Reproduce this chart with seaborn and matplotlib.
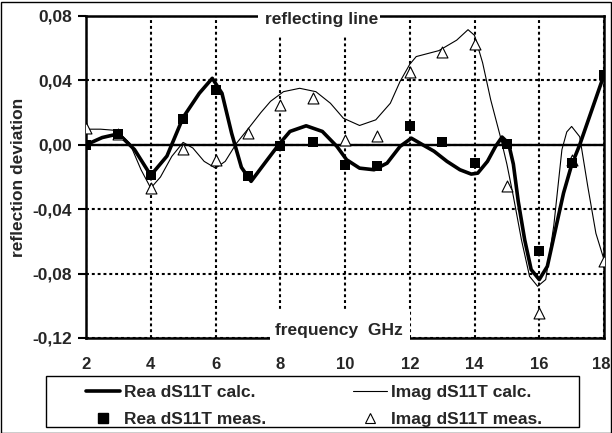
import matplotlib
matplotlib.use("Agg")
import matplotlib.pyplot as plt
import matplotlib.transforms as mtransforms
import seaborn as sns
import pandas as pd
from matplotlib.patches import Rectangle
from matplotlib.lines import Line2D

# ---------------- data ----------------
freq_meas = [2, 3, 4, 5, 6, 7, 8, 9, 10, 11, 12, 13, 14, 15, 16, 17, 18]
rea_meas = [0.000, 0.0068, -0.0186, 0.0163, 0.0341, -0.0196, -0.0005, 0.0018, -0.0124,
            -0.0134, 0.0114, 0.0017, -0.011, 0.0004, -0.0662, -0.011, 0.0434]
imag_meas = [0.0105, 0.0070, -0.0271, -0.0027, -0.0093, 0.0076, 0.0248, 0.0290, 0.0031,
             0.0052, 0.0455, 0.0579, 0.0628, -0.0258, -0.1046, -0.0095, -0.0723]

freq_rea_calc = [2.0, 2.5, 3.0, 3.5, 4.0, 4.5, 5.0, 5.5, 5.9, 6.2, 6.5, 6.8, 7.1, 7.6,
                 7.95, 8.3, 8.8, 9.3, 9.75, 10.05, 10.45, 10.9, 11.3, 11.7, 12.05, 12.4,
                 12.75, 13.15, 13.55, 13.9, 14.1, 14.4, 14.65, 14.85, 15.05, 15.2, 15.35,
                 15.55, 15.75, 16.0, 16.25, 16.5, 16.75, 17.0, 17.25, 18.0]
rea_calc = [0.000, 0.0045, 0.0068, -0.003, -0.019, -0.007, 0.017, 0.032, 0.0413, 0.032,
            0.007, -0.014, -0.0227, -0.0093, 0.000, 0.0083, 0.0118, 0.0083, -0.001,
            -0.0093, -0.0145, -0.0155, -0.0114, -0.001, 0.0041, 0.000, -0.004, -0.0103,
            -0.0155, -0.0182, -0.0176, -0.0103, -0.001, 0.0048, 0.001, -0.012, -0.035,
            -0.059, -0.0775, -0.0837, -0.0755, -0.0527, -0.030, -0.0125, 0.000, 0.0434]

freq_imag_calc = [2.0, 2.45, 2.95, 3.35, 3.7, 4.0, 4.3, 4.65, 5.0, 5.3, 5.65, 6.0, 6.3,
                  6.65, 7.05, 7.4, 7.7, 8.1, 8.6, 9.1, 9.55, 9.95, 10.45, 10.95, 11.4,
                  11.7, 12.0, 12.2, 12.9, 13.45, 13.8, 14.0, 14.25, 14.5, 14.8, 15.0,
                  15.2, 15.45, 15.7, 15.95, 16.2, 16.45, 16.7, 16.85, 17.0, 17.25, 17.5,
                  17.75, 18.0]
imag_calc = [0.0097, 0.0097, 0.0089, 0.001, -0.0155, -0.0269, -0.020, -0.0072, 0.0015,
             -0.002, -0.0103, -0.0145, -0.0103, 0.001, 0.011, 0.020, 0.027, 0.033, 0.0351,
             0.033, 0.0258, 0.0165, 0.012, 0.0155, 0.0258, 0.0393, 0.0500, 0.0548, 0.0585,
             0.065, 0.0715, 0.068, 0.0510, 0.028, 0.005, -0.012, -0.032, -0.059, -0.0817,
             -0.0879, -0.0837, -0.050, -0.003, 0.008, 0.0114, 0.005, -0.026, -0.055, -0.0713]

x_ticks = [2, 4, 6, 8, 10, 12, 14, 16, 18]
x_tick_labels = ["2", "4", "6", "8", "10", "12", "14", "16", "18"]
y_ticks = [-0.12, -0.08, -0.04, 0.0, 0.04, 0.08]
y_tick_labels = ["-0,12", "-0,08", "-0,04", "0,00", "0,04", "0,08"]
top_label = "reflecting line"
x_label = "frequency  GHz"
y_label = "reflection deviation"
series_names = ["Rea dS11T calc.", "Rea dS11T meas.", "Imag dS11T calc.", "Imag dS11T meas."]

# ---------------- style ----------------
sns.set_theme(style="white")
plt.rcParams['font.family'] = ['Liberation Sans', 'DejaVu Sans']
plt.rcParams['font.weight'] = 'bold'
FS = 12.5

W, H = 612, 433
fig = plt.figure(figsize=(W / 100, H / 100), dpi=100)
fig.patch.set_facecolor("white")
fig.patches.append(Rectangle((0.5 / W, 0.5 / H), 1 - 2 / W, 1 - 2 / H, transform=fig.transFigure,
                             fill=False, edgecolor="black", linewidth=1.0))

ax = fig.add_axes([86 / W, 1 - 338 / H, 518 / W, 322 / H])
ax.set_facecolor("white")

df_rc = pd.DataFrame({"f": freq_rea_calc, "v": rea_calc})
df_ic = pd.DataFrame({"f": freq_imag_calc, "v": imag_calc})
df_m = pd.DataFrame({"f": freq_meas, "rea": rea_meas, "imag": imag_meas})

sns.lineplot(data=df_ic, x="f", y="v", ax=ax, color="black", linewidth=0.8,
             sort=False, estimator=None, zorder=3)
sns.lineplot(data=df_rc, x="f", y="v", ax=ax, color="black", linewidth=2.6,
             sort=False, estimator=None, zorder=4)
sns.scatterplot(data=df_m, x="f", y="imag", ax=ax, marker="^", s=62, facecolor="white",
                edgecolor="black", linewidth=0.8, zorder=5)
sns.scatterplot(data=df_m, x="f", y="rea", ax=ax, marker="s", s=56, color="black",
                edgecolor="black", linewidth=0, zorder=6)

ax.set_xlim(2, 18)
ax.set_ylim(-0.12, 0.08)
ax.set_xticks(x_ticks)
ax.set_xticklabels(x_tick_labels)
ax.set_yticks(y_ticks)
ax.set_yticklabels(y_tick_labels)
ax.set_xlabel("")
ax.set_ylabel("")
ax.tick_params(axis="y", direction="out", length=6, width=1.5, pad=4, labelsize=FS,
               left=True, color="black")
ax.tick_params(axis="x", length=0, pad=14, labelsize=12)
for lab in ax.get_xticklabels() + ax.get_yticklabels():
    lab.set_fontweight("bold")
last = ax.get_xticklabels()[-1]
last.set_transform(last.get_transform() + mtransforms.ScaledTranslation(-3 / 100, 0, fig.dpi_scale_trans))

ax.grid(True, color="black", linestyle=(0, (1.4, 1.4)), linewidth=1.5, zorder=1)
ax.set_axisbelow(True)
ax.axhline(0, color="black", linewidth=1.7, zorder=2)
for sp in ax.spines.values():
    sp.set_color("black")
    sp.set_linewidth(1.8)
    sp.set_visible(True)

# white label boxes interrupting the frame
ax.add_patch(Rectangle(((258 - 86) / 518, (338 - 35) / 322), 122 / 518, 33 / 322,
                       transform=ax.transAxes, facecolor="white", edgecolor="none",
                       clip_on=False, zorder=7))
ax.text((321.5 - 86) / 518, (338 - 24) / 322, top_label, transform=ax.transAxes,
        ha="center", va="baseline", fontsize=FS, fontweight="bold", zorder=8)
ax.add_patch(Rectangle(((270 - 86) / 518, (338 - 348) / 322), 140 / 518, 38 / 322,
                       transform=ax.transAxes, facecolor="white", edgecolor="none",
                       clip_on=False, zorder=7))
ax.text((339 - 86) / 518, (338 - 335) / 322, x_label, transform=ax.transAxes,
        ha="center", va="baseline", fontsize=FS, fontweight="bold", zorder=8)

fig.text(19 / W, 1 - 177 / H, y_label, rotation=90, ha="center", va="center",
         fontsize=FS, fontweight="bold")

# legend
fig.patches.append(Rectangle((46 / W, 1 - 427 / H), 533 / W, 51 / H, transform=fig.transFigure,
                             fill=True, facecolor="white", edgecolor="black", linewidth=1.0))
handles = [
    Line2D([], [], color="black", linewidth=2.6),
    Line2D([], [], color="black", marker="s", markersize=7.5, linestyle="none"),
    Line2D([], [], color="black", linewidth=0.8),
    Line2D([], [], color="black", marker="^", markersize=7.5, markerfacecolor="white",
           markeredgewidth=0.8, linestyle="none"),
]
leg = fig.legend(handles, series_names, ncol=2, loc="upper left",
                 bbox_to_anchor=(86 / W, 1 - 385 / H), frameon=False, borderpad=0,
                 borderaxespad=0, handlelength=1.96, handletextpad=0.23,
                 columnspacing=5.0, labelspacing=0.68, prop={"size": FS, "weight": "bold"})

fig.savefig("out.png", dpi=100, facecolor="white")
